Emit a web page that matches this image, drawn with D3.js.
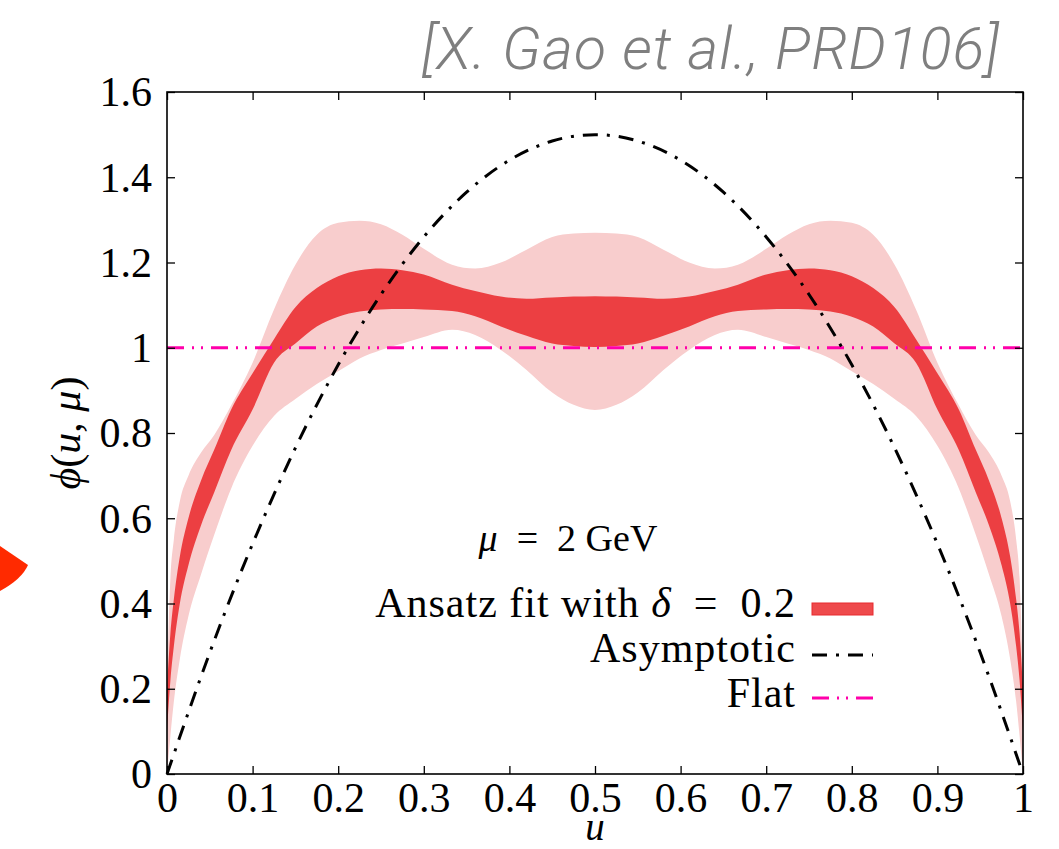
<!DOCTYPE html>
<html>
<head>
<meta charset="utf-8">
<script src="https://cdn.jsdelivr.net/npm/d3@7"></script>
<style>
  html, body { margin: 0; padding: 0; background: #ffffff; }
  svg { display: block; }
</style>
</head>
<body>
<svg id="chart" width="1059" height="849"></svg>
<script>
// Momentum fraction grid for the fitted distribution amplitude bands
const uGrid = [
  0, 0.004, 0.008, 0.015, 0.025, 0.04, 0.055, 0.075, 0.1, 0.125, 0.15, 0.175,
  0.2, 0.225, 0.25, 0.275, 0.3, 0.333, 0.36, 0.39, 0.42, 0.45, 0.475, 0.5,
  0.525, 0.55, 0.58, 0.61, 0.64, 0.667, 0.7, 0.725, 0.75, 0.775, 0.8, 0.825,
  0.85, 0.875, 0.9, 0.925, 0.945, 0.96, 0.975, 0.985, 0.992, 0.996, 1
];
// Outer (light) band
const outerUpper = [
  0.22, 0.46, 0.55, 0.64, 0.70, 0.755, 0.795, 0.865, 0.965, 1.09, 1.195, 1.265,
  1.293, 1.298, 1.29, 1.265, 1.232, 1.195, 1.186, 1.2, 1.23, 1.26, 1.268, 1.27,
  1.268, 1.26, 1.23, 1.2, 1.186, 1.195, 1.232, 1.265, 1.29, 1.298, 1.293, 1.265,
  1.195, 1.09, 0.965, 0.865, 0.795, 0.755, 0.70, 0.64, 0.55, 0.46, 0.22
];
const outerLower = [
  0.00, 0.09, 0.17, 0.27, 0.37, 0.47, 0.56, 0.67, 0.77, 0.84, 0.88, 0.915,
  0.945, 0.975, 0.995, 1.01, 1.025, 1.042, 1.03, 0.995, 0.948, 0.895, 0.866, 0.854,
  0.866, 0.895, 0.948, 0.995, 1.03, 1.042, 1.025, 1.01, 0.995, 0.975, 0.945, 0.915,
  0.88, 0.84, 0.77, 0.67, 0.56, 0.47, 0.37, 0.27, 0.17, 0.09, 0.00
];
// Inner (dark) band: ansatz fit with delta = 0.2
const innerUpper = [
  0.20, 0.33, 0.41, 0.51, 0.60, 0.69, 0.76, 0.855, 0.94, 1.02, 1.095, 1.14,
  1.168, 1.182, 1.186, 1.182, 1.172, 1.148, 1.133, 1.12, 1.115, 1.118, 1.12, 1.121,
  1.12, 1.118, 1.115, 1.12, 1.133, 1.148, 1.172, 1.182, 1.186, 1.182, 1.168, 1.14,
  1.095, 1.02, 0.94, 0.855, 0.76, 0.69, 0.60, 0.51, 0.41, 0.33, 0.20
];
const innerLower = [
  0.10, 0.22, 0.30, 0.40, 0.49, 0.585, 0.66, 0.76, 0.855, 0.965, 1.01, 1.05,
  1.073, 1.085, 1.09, 1.091, 1.09, 1.086, 1.074, 1.05, 1.028, 1.01, 1.004, 1.002,
  1.004, 1.01, 1.028, 1.05, 1.074, 1.086, 1.09, 1.091, 1.09, 1.085, 1.073, 1.05,
  1.01, 0.965, 0.855, 0.76, 0.66, 0.585, 0.49, 0.40, 0.30, 0.22, 0.10
];
// Asymptotic distribution amplitude
const uAsym = [0, 0.05, 0.1, 0.15, 0.2, 0.25, 0.3, 0.35, 0.4, 0.45, 0.5,
               0.55, 0.6, 0.65, 0.7, 0.75, 0.8, 0.85, 0.9, 0.95, 1];
const phiAsym = [0, 0.285, 0.54, 0.765, 0.96, 1.125, 1.26, 1.365, 1.44, 1.485, 1.5,
                 1.485, 1.44, 1.365, 1.26, 1.125, 0.96, 0.765, 0.54, 0.285, 0];
// Flat distribution amplitude
const uFlat = [0, 1];
const phiFlat = [1, 1];

// Axis ticks
const xTicks = [0, 0.1, 0.2, 0.3, 0.4, 0.5, 0.6, 0.7, 0.8, 0.9, 1];
const xTickLabels = ["0", "0.1", "0.2", "0.3", "0.4", "0.5", "0.6", "0.7", "0.8", "0.9", "1"];
const yTicks = [0, 0.2, 0.4, 0.6, 0.8, 1, 1.2, 1.4, 1.6];
const yTickLabels = ["0", "0.2", "0.4", "0.6", "0.8", "1", "1.2", "1.4", "1.6"];

const svg = d3.select("#chart");
const plotLeft = 167, plotRight = 1023, plotTop = 92, plotBottom = 774;
const x = d3.scaleLinear().domain([0, 1]).range([plotLeft, plotRight]);
const y = d3.scaleLinear().domain([0, 1.6]).range([plotBottom, plotTop]);

const serif = "'Liberation Serif', 'Times New Roman', serif";

// Citation tag
svg.append("text")
  .attr("x", 1000).attr("y", 69)
  .attr("text-anchor", "end")
  .style("font-family", "Roboto, 'Liberation Sans', sans-serif")
  .style("font-weight", 300)
  .style("font-style", "italic")
  .style("font-size", "59px")
  .style("letter-spacing", "1px")
  .style("fill", "#7f7f7f")
  .text("[X. Gao et al., PRD106]");

// Pointer mark at the left margin
svg.append("path")
  .attr("d", "M0,546 L28,565 Q22,579 0,591 Z")
  .attr("fill", "#ff2a00");

const bandOuter = uGrid.map((u, i) => ({u, lo: outerLower[i], hi: outerUpper[i]}));
const bandInner = uGrid.map((u, i) => ({u, lo: innerLower[i], hi: innerUpper[i]}));

const area = d3.area()
  .x(d => x(d.u))
  .y0(d => y(d.lo))
  .y1(d => y(d.hi))
  .curve(d3.curveMonotoneX);

const plot = svg.append("g");
plot.append("clipPath").attr("id", "plotClip")
  .append("rect").attr("x", plotLeft).attr("y", plotTop)
  .attr("width", plotRight - plotLeft).attr("height", plotBottom - plotTop);

const bands = plot.append("g").attr("clip-path", "url(#plotClip)");
bands.append("path").datum(bandOuter).attr("d", area).attr("fill", "#f8cdcd");
bands.append("path").datum(bandInner).attr("d", area).attr("fill", "#ec3f42");

const line = d3.line().x(d => x(d.u)).y(d => y(d.v));

plot.append("path")
  .datum(uFlat.map((u, i) => ({u, v: phiFlat[i]})))
  .attr("d", line)
  .attr("fill", "none")
  .attr("stroke", "#ff00aa")
  .attr("stroke-width", 3)
  .attr("stroke-dasharray", "17,8,2,7,2,8");

plot.append("path")
  .datum(uAsym.map((u, i) => ({u, v: phiAsym[i]})))
  .attr("d", line.curve(d3.curveNatural))
  .attr("fill", "none")
  .attr("stroke", "#000")
  .attr("stroke-width", 3)
  .attr("stroke-dasharray", "15,9,3,9");

// Axes with inward ticks on all four sides
const tickStyle = g => {
  g.select(".domain").remove();
  g.selectAll(".tick line").attr("stroke", "#000").attr("stroke-width", 1.3);
};
svg.append("g").attr("transform", `translate(0,${plotBottom})`)
  .call(d3.axisBottom(x).tickValues(xTicks).tickSizeInner(-8).tickSizeOuter(0)
        .tickFormat((d, i) => xTickLabels[i]).tickPadding(12))
  .call(tickStyle)
  .call(g => g.selectAll("text").attr("y", 38).attr("dy", null)
        .style("font-family", serif).style("font-size", "42px").style("fill", "#000"));

svg.append("g").attr("transform", `translate(${plotLeft},0)`)
  .call(d3.axisLeft(y).tickValues(yTicks).tickSizeInner(-8).tickSizeOuter(0)
        .tickFormat((d, i) => yTickLabels[i]).tickPadding(15))
  .call(tickStyle)
  .call(g => g.selectAll("text").attr("dy", "0.33em")
        .style("font-family", serif).style("font-size", "42px").style("fill", "#000"));

svg.append("g").attr("transform", `translate(0,${plotTop})`)
  .call(d3.axisTop(x).tickValues(xTicks).tickSizeInner(-8).tickSizeOuter(0).tickFormat(""))
  .call(tickStyle);
svg.append("g").attr("transform", `translate(${plotRight},0)`)
  .call(d3.axisRight(y).tickValues(yTicks).tickSizeInner(-8).tickSizeOuter(0).tickFormat(""))
  .call(tickStyle);

svg.append("rect")
  .attr("x", plotLeft).attr("y", plotTop)
  .attr("width", plotRight - plotLeft).attr("height", plotBottom - plotTop)
  .attr("fill", "none").attr("stroke", "#000").attr("stroke-width", 1.6);

// Axis titles
svg.append("text")
  .attr("x", (plotLeft + plotRight) / 2).attr("y", 840)
  .attr("text-anchor", "middle")
  .style("font-family", serif).style("font-style", "italic").style("font-size", "39px")
  .text("u");

const yTitle = svg.append("text")
  .attr("transform", "translate(80,433) rotate(-90)")
  .attr("text-anchor", "middle")
  .style("font-family", serif).style("font-size", "42px");
yTitle.append("tspan").style("font-style", "italic").text("ϕ");
yTitle.append("tspan").text("(");
yTitle.append("tspan").style("font-style", "italic").text("u");
yTitle.append("tspan").text(", ");
yTitle.append("tspan").style("font-style", "italic").text("μ");
yTitle.append("tspan").text(")");

// Scale annotation
const scaleNote = svg.append("text")
  .attr("x", 568).attr("y", 551)
  .attr("text-anchor", "middle")
  .style("font-family", serif).style("font-size", "38px");
scaleNote.append("tspan").style("font-style", "italic").text("μ");
scaleNote.append("tspan").text("\u2002=\u20022 GeV");

// Legend
const legendX = 796, sampleX0 = 812, sampleX1 = 873;
const legend = svg.append("g")
  .style("font-family", serif).style("font-size", "42px").style("letter-spacing", "1px");

const l1 = legend.append("text").attr("x", legendX).attr("y", 617).attr("text-anchor", "end");
l1.append("tspan").text("Ansatz fit with ");
l1.append("tspan").style("font-style", "italic").text("δ");
l1.append("tspan").text("\u2002=\u20020.2");
legend.append("rect")
  .attr("x", sampleX0).attr("y", 603).attr("width", sampleX1 - sampleX0).attr("height", 12)
  .attr("fill", "#ee4a4c").attr("stroke", "#e82a2e").attr("stroke-width", 1);

legend.append("text").attr("x", legendX).attr("y", 662).attr("text-anchor", "end").text("Asymptotic");
legend.append("line")
  .attr("x1", sampleX0).attr("x2", sampleX1).attr("y1", 655).attr("y2", 655)
  .attr("stroke", "#000").attr("stroke-width", 3).attr("stroke-dasharray", "15,9,3,9");

legend.append("text").attr("x", legendX).attr("y", 707).attr("text-anchor", "end").text("Flat");
legend.append("line")
  .attr("x1", sampleX0).attr("x2", sampleX1).attr("y1", 698).attr("y2", 698)
  .attr("stroke", "#ff00aa").attr("stroke-width", 3).attr("stroke-dasharray", "17,8,2,7,2,8");
</script>
</body>
</html>
